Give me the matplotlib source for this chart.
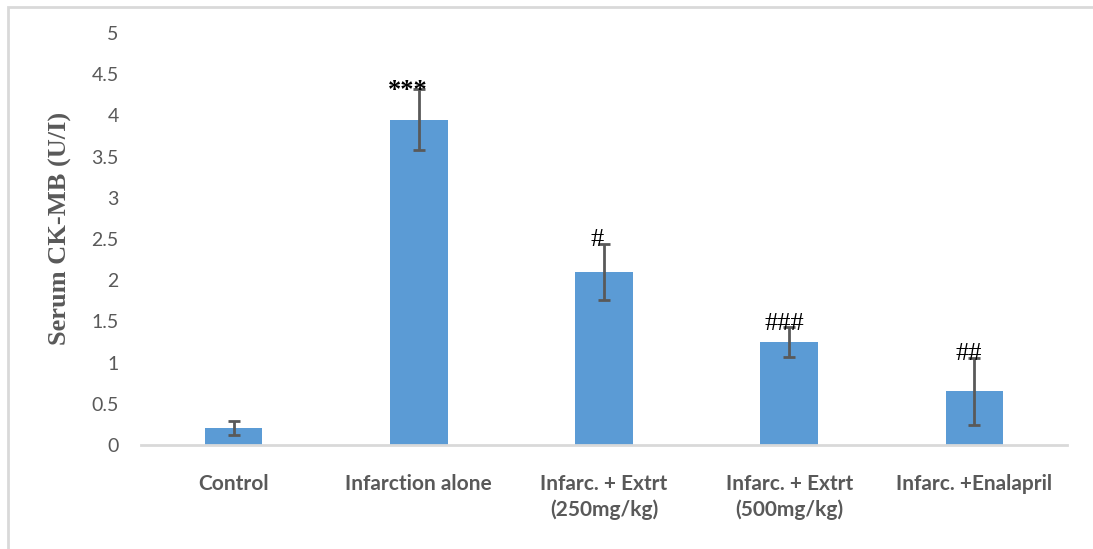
import numpy as np
import matplotlib.pyplot as plt
from matplotlib.patches import Rectangle

# CK-MB levels per group
groups = ['Control', 'Infarction alone', 'Infarc. + Extrt\n(250mg/kg)',
          'Infarc. + Extrt\n(500mg/kg)', 'Infarc. +Enalapril']
ckmb = [0.21, 3.95, 2.10, 1.25, 0.65]
sem = [0.085, 0.375, 0.345, 0.18, 0.41]
marks = ['', '***', '#', '###', '##']

W, H = 1093, 549
fig = plt.figure(figsize=(W / 100, H / 100), dpi=100)
ax = fig.add_axes([141 / W, 1 - 445 / H, (1067 - 141) / W, (445 - 33) / H])

x = np.arange(len(groups))
ax.bar(x, ckmb, width=0.31, color='#5B9BD5', zorder=2)
ax.errorbar(x, ckmb, yerr=sem, fmt='none', ecolor='#595959', elinewidth=2,
            capsize=4.3, capthick=2, zorder=3)

# significance marks above error bars
offs = [0, -0.06, -0.035, -0.025, -0.03]
for i, m in enumerate(marks):
    if not m:
        continue
    top = ckmb[i] + sem[i]
    if m.startswith('*'):
        ax.text(i + offs[i], top - 0.16, m, ha='center', va='bottom',
                family='Liberation Serif', fontweight='bold', fontsize=19, color='black')
    else:
        ax.text(i + offs[i], top + 0.04, m, ha='center', va='center',
                family='Liberation Serif', fontsize=19, color='black')

ax.set_xlim(-0.5, 4.5)
ax.set_ylim(0, 5)
ax.set_yticks(np.arange(0, 5.01, 0.5))
ax.set_yticklabels(['0', '0.5', '1', '1.5', '2', '2.5', '3', '3.5', '4', '4.5', '5'])
ax.set_xticks(x)
ax.set_xticklabels(groups, family='Lato', fontweight='bold', fontsize=15, linespacing=1.3)
ax.tick_params(axis='x', length=0, pad=21, colors='#595959')
ax.tick_params(axis='y', length=0, pad=16, colors='#595959', labelsize=14)
for lbl in ax.get_yticklabels():
    lbl.set_family('Lato')

for s in ['top', 'right', 'left']:
    ax.spines[s].set_visible(False)
ax.spines['bottom'].set_color('#D9D9D9')
ax.spines['bottom'].set_linewidth(2)

ax.set_ylabel('Serum CK-MB (U/I)', family='Liberation Serif', fontweight='bold',
              fontsize=19, color='#595959')
ax.yaxis.set_label_coords(-0.074, 0.525)

# chart frame
fig.patches.append(Rectangle((8 / W, -0.2), 1.2, 1.2 - 7 / H, transform=fig.transFigure,
                             fill=False, edgecolor='#D9D9D9', linewidth=2))

fig.savefig('out.png', dpi=100)
